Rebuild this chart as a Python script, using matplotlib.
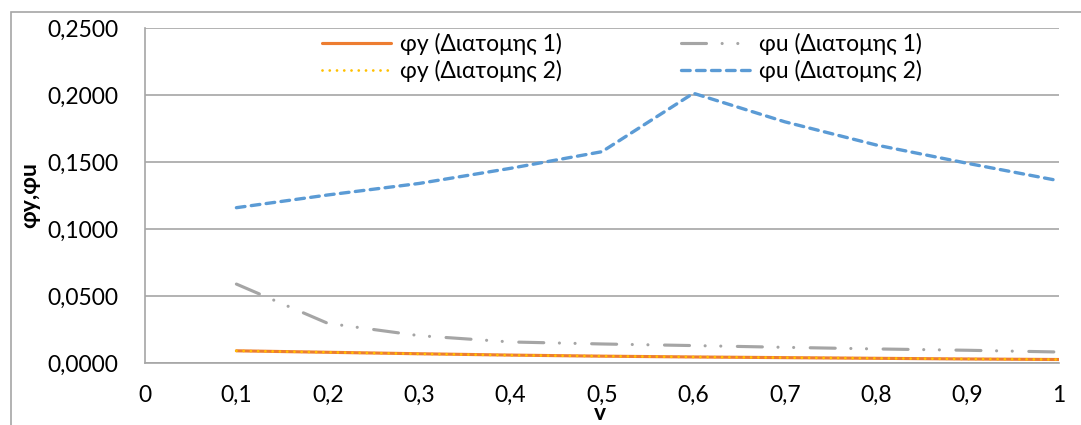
import matplotlib
matplotlib.use("Agg")
import matplotlib.pyplot as plt
from matplotlib.patches import Rectangle

plt.rcParams['font.family'] = ['Lato', 'Noto Sans', 'DejaVu Sans']

# data
v = [0.1, 0.2, 0.3, 0.4, 0.5, 0.6, 0.7, 0.8, 0.9, 1.0]
phy_1 = [0.0091, 0.0080, 0.0069, 0.0059, 0.0051, 0.0045, 0.0040, 0.0035, 0.0030, 0.0026]
phy_2 = [0.0091, 0.0080, 0.0068, 0.0058, 0.0051, 0.0045, 0.0040, 0.0035, 0.0030, 0.0026]
phu_1 = [0.0589, 0.0296, 0.0204, 0.0157, 0.0142, 0.0130, 0.0117, 0.0105, 0.0095, 0.0082]
phu_2 = [0.1159, 0.1254, 0.1340, 0.1453, 0.1577, 0.2013, 0.1800, 0.1627, 0.1490, 0.1360]

labels = ['φy (Διατομης 1)', 'φy (Διατομης 2)', 'φu (Διατομης 1)', 'φu (Διατομης 2)']
xticks = [0, 0.1, 0.2, 0.3, 0.4, 0.5, 0.6, 0.7, 0.8, 0.9, 1.0]
xticklabels = ['0', '0,1', '0,2', '0,3', '0,4', '0,5', '0,6', '0,7', '0,8', '0,9', '1']
yticks = [0, 0.05, 0.10, 0.15, 0.20, 0.25]
yticklabels = ['0,0000', '0,0500', '0,1000', '0,1500', '0,2000', '0,2500']

fs = 16.5

fig = plt.figure(figsize=(10.81, 4.25), dpi=100)
ax = fig.add_axes([145/1081, 1-363/425, (1059-145)/1081, (363-28)/425])

# chart area border (only top/left visible in the reference)
fig.patches.append(Rectangle((11/1081, -0.2), 1.2, 1.2 - 11.7/425,
                             transform=fig.transFigure, fill=False,
                             edgecolor='#A6A6A6', lw=1.2))

l1, = ax.plot(v, phy_1, color='#ED7D31', lw=2.25, solid_capstyle='round')
l3, = ax.plot(v, phu_1, color='#A5A5A5', lw=2.25, dash_capstyle='round',
              linestyle=(0, (8, 5, 0.01, 5, 0.01, 5.3)))
l2, = ax.plot(v, phy_2, color='#FFC000', lw=2.0, dash_capstyle='round',
              linestyle=(0, (0.01, 2.6)))
l4, = ax.plot(v, phu_2, color='#5B9BD5', lw=2.4, dash_capstyle='round',
              linestyle=(0, (2.6, 1.9)))

ax.set_xlim(0, 1)
ax.set_ylim(0, 0.25)
ax.set_xticks(xticks)
ax.set_xticklabels(xticklabels)
ax.set_yticks(yticks)
ax.set_yticklabels(yticklabels)
ax.tick_params(axis='both', length=0, labelsize=fs, colors='black')
ax.tick_params(axis='y', pad=19)
ax.tick_params(axis='x', pad=16)

ax.grid(axis='y', color='#A6A6A6', lw=1.2)
ax.set_axisbelow(True)
for s in ['top', 'right']:
    ax.spines[s].set_visible(False)
for s in ['left', 'bottom']:
    ax.spines[s].set_color('#A6A6A6')
    ax.spines[s].set_linewidth(1.2)

fig.text(30/1081, 1-195/425, 'φy,φu', rotation=90, fontsize=fs, fontweight='bold',
         ha='center', va='center')
fig.text(600/1081, 1-413/425, 'v', fontsize=fs, fontweight='bold', ha='center', va='center')

ax.legend([l1, l2, l3, l4], labels, ncol=2, loc='upper left',
          bbox_to_anchor=(322/1081, 1-33/425), bbox_transform=fig.transFigure,
          frameon=False, fontsize=fs,
          handlelength=3.0, columnspacing=5.2, labelspacing=0.2,
          handletextpad=0.4, borderpad=0, borderaxespad=0)

fig.savefig('out.png', dpi=100)
